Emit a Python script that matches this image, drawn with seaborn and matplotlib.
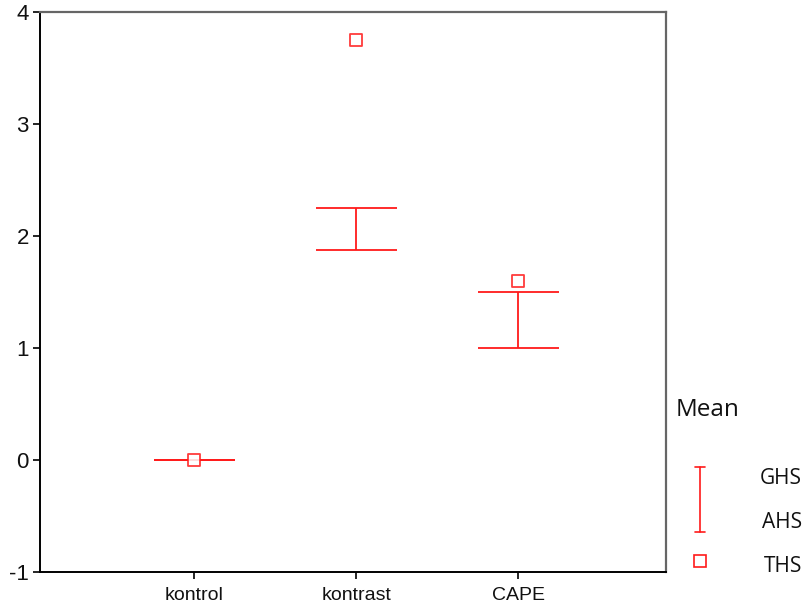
import matplotlib
matplotlib.use("Agg")
import matplotlib.pyplot as plt
from matplotlib.lines import Line2D
import seaborn as sns
import pandas as pd

# Group labels and summary statistics
groups = ["kontrol", "kontrast", "CAPE"]
ghs = [0.0, 2.25, 1.5]     # upper bound
ahs = [0.0, 1.875, 1.0]    # lower bound
ths = [0.0, 3.75, 1.6]     # point value

y_ticks = [-1, 0, 1, 2, 3, 4]

df = pd.DataFrame({"group": groups, "GHS": ghs, "AHS": ahs, "THS": ths})
df["pos"] = range(len(groups))

sns.set_style("white")
plt.rcParams["font.family"] = ["Liberation Sans", "DejaVu Sans"]

RED = "#ff1a1a"

fig = plt.figure(figsize=(8.07, 6.05), dpi=100)
ax = fig.add_axes([40 / 807, 1 - 572 / 605, 626 / 807, 560 / 605])

cap = 0.25
# high/low range: vertical stem plus caps at both ends
ax.vlines(df["pos"], df["AHS"], df["GHS"], color=RED, lw=1.3)
ax.hlines(df["GHS"], df["pos"] - cap, df["pos"] + cap, color=RED, lw=1.3)
ax.hlines(df["AHS"], df["pos"] - cap, df["pos"] + cap, color=RED, lw=1.3)

sns.scatterplot(data=df, x="pos", y="THS", marker="s", s=80,
                facecolor="white", edgecolor=RED, linewidth=1.3,
                alpha=0.85, ax=ax, zorder=3, legend=False)

ax.set_xlim(-0.95, 2.91)
ax.set_ylim(-1, 4)
ax.set_xticks(df["pos"])
ax.set_xticklabels(groups, fontsize=14, color="#111111")
ax.set_yticks(y_ticks)
ax.set_yticklabels([str(t) for t in y_ticks], fontsize=16, color="#111111")
ax.set_xlabel("")
ax.set_ylabel("")

ax.tick_params(axis="both", direction="out", length=5, width=1.2,
               color="black", left=True, bottom=True)
ax.tick_params(axis="x", pad=6)
ax.tick_params(axis="y", pad=3)
for side in ["left", "bottom"]:
    ax.spines[side].set_color("black")
    ax.spines[side].set_linewidth(1.4)
for side in ["top", "right"]:
    ax.spines[side].set_color("#666666")
    ax.spines[side].set_linewidth(1.6)

# Legend drawn beside the plot area
leg_font = ["Open Sans", "DejaVu Sans"]
fig.text(676 / 807, 1 - 410 / 605, "Mean", fontsize=17.5, family=leg_font,
         va="center", ha="left", color="#111111")
xs = 700 / 807
y_top, y_bot = 1 - 467 / 605, 1 - 532 / 605
fig.add_artist(Line2D([xs, xs], [y_top, y_bot], color=RED, lw=1.2))
for yy in (y_top, y_bot):
    fig.add_artist(Line2D([xs - 5 / 807, xs + 5 / 807], [yy, yy], color=RED, lw=1.2))
fig.add_artist(Line2D([xs], [1 - 561 / 605], marker="s", markersize=8,
                      markerfacecolor="white", markeredgecolor=RED,
                      markeredgewidth=1.2, linestyle="none"))
for label, yy, xx in (("GHS", 478, 760), ("AHS", 523, 762), ("THS", 567, 764)):
    fig.text(xx / 807, 1 - yy / 605, label, fontsize=15, family=leg_font,
             va="center", ha="left", color="#111111")

fig.savefig("out.png", dpi=100, facecolor="white")
